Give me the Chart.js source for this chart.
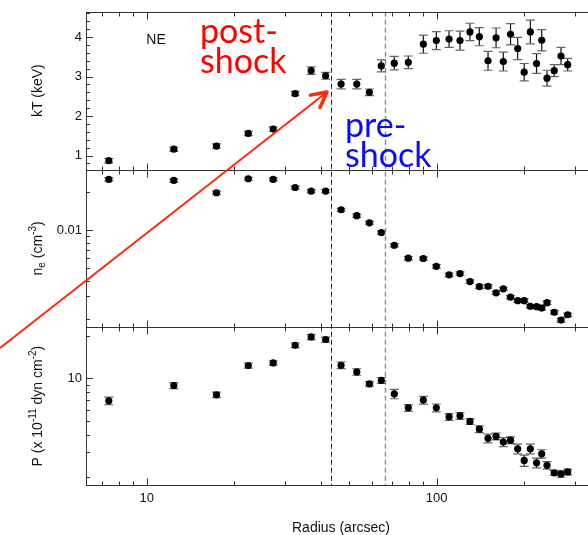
<!DOCTYPE html>
<html>
<head>
<meta charset="utf-8">
<script src="https://cdn.jsdelivr.net/npm/chart.js@4.4.1/dist/chart.umd.min.js"></script>
<style>
  html, body { margin: 0; padding: 0; background: #fff; }
  #wrap { width: 588px; height: 535px; }
</style>
</head>
<body>
<div id="wrap"><canvas id="profile" width="588" height="535"></canvas></div>
<script>
// NE sector radial profiles
const radius = [7.4, 12.4, 17.4, 22.4, 27.3, 32.5, 36.9, 41.4, 46.8, 53.0, 58.6, 64.4, 71.4, 79.8, 89.9,
  99.7, 110.3, 120.3, 130.2, 140.3, 150.3, 160.2, 169.7, 179.7, 190.2, 200.3, 210.3, 220.9, 230.2, 240.1,
  254.2, 268.3, 282.9];

const kT = [0.87, 1.16, 1.24, 1.56, 1.67, 2.57, 3.15, 3.02, 2.81, 2.81, 2.60, 3.27, 3.34, 3.36, 3.82,
  3.91, 3.95, 3.91, 4.13, 4.01, 3.40, 3.98, 3.38, 4.07, 3.71, 3.11, 4.13, 3.33, 3.92, 2.96,
  3.15, 3.52, 3.30];
const kTErr = [0.055, 0.055, 0.055, 0.055, 0.055, 0.055, 0.093, 0.085, 0.12, 0.12, 0.085, 0.15, 0.17, 0.16, 0.23,
  0.23, 0.21, 0.24, 0.22, 0.23, 0.24, 0.25, 0.24, 0.27, 0.28, 0.22, 0.30, 0.25, 0.27, 0.20,
  0.15, 0.22, 0.16];

const ne = [0.0254, 0.0249, 0.0199, 0.0257, 0.0254, 0.0219, 0.0205, 0.0205, 0.0146, 0.0131, 0.0115, 0.00964, 0.00764, 0.00603, 0.00600,
  0.00520, 0.00445, 0.00456, 0.00394, 0.00359, 0.00361, 0.00321, 0.00345, 0.00296, 0.00278, 0.00278, 0.00251, 0.00249, 0.00243, 0.00268,
  0.00225, 0.00195, 0.00215];
const neErr = [0.0008, 0.0007, 0.0006, 0.0007, 0.0007, 0.0006, 0.0006, 0.0006, 0.0004, 0.0004, 0.0003, 0.0003, 0.00022, 0.00018, 0.00018,
  0.00016, 0.00014, 0.00014, 0.00012, 0.00011, 0.00011, 0.0001, 0.0001, 0.00009, 0.00009, 0.00009, 0.00008, 0.00008, 0.00008, 0.00009,
  0.00008, 0.00007, 0.00007];

// pressure in units of 1e-11 dyn cm^-2
const pressure = [6.95, 8.92, 7.66, 12.36, 12.89, 17.19, 19.68, 18.89, 12.41, 11.13, 9.16, 9.69, 7.78, 6.20, 7.03,
  6.20, 5.35, 5.44, 4.97, 4.38, 3.77, 3.89, 3.55, 3.66, 3.18, 2.63, 3.18, 2.53, 2.93, 2.43,
  2.15, 2.11, 2.18];
const pressureErr = [0.43, 0.44, 0.35, 0.51, 0.46, 0.65, 0.81, 0.77, 0.68, 0.59, 0.33, 0.47, 0.59, 0.34, 0.44,
  0.40, 0.29, 0.30, 0.23, 0.24, 0.27, 0.21, 0.26, 0.20, 0.25, 0.24, 0.25, 0.20, 0.20, 0.15,
  0.09, 0.11, 0.10];

// shock edges (arcsec)
const shockInner = 43.2;
const shockOuter = 66.3;

// tick marks
const xMajor = [10, 100];
const xMinor = [7, 8, 9, 20, 30, 40, 50, 60, 70, 80, 90, 200, 300];
const kTMajor = [1, 2, 3, 4];
const kTMinor = [0.8, 1.2, 1.4, 1.6, 1.8, 2.2, 2.4, 2.6, 2.8, 3.2, 3.4, 3.6, 3.8, 4.2, 4.4, 4.6];
const neMajor = [0.01];
const neMinor = [0.002, 0.003, 0.004, 0.005, 0.006, 0.007, 0.008, 0.009, 0.02, 0.03];
const pMajor = [10];
const pMinor = [2, 3, 4, 5, 6, 7, 8, 9, 20];

const SANS = '"Liberation Sans", Arial, Helvetica, sans-serif';

const frame = {
  id: 'frame',
  beforeDatasetsDraw(chart) {
    const { ctx, chartArea: a, scales } = chart;
    const xs = scales.x;
    ctx.save();

    // dashed lines at the shock edges
    ctx.setLineDash([5, 3]);
    [[shockInner, '#222', 1], [shockOuter, '#8a8a8a', 1.4]].forEach(([r, c, w]) => {
      const px = Math.round(xs.getPixelForValue(r)) + 0.5;
      ctx.strokeStyle = c;
      ctx.lineWidth = w;
      ctx.beginPath();
      ctx.moveTo(px, a.top);
      ctx.lineTo(px, a.bottom);
      ctx.stroke();
    });
    ctx.setLineDash([]);

    ctx.strokeStyle = '#333';
    ctx.lineWidth = 1;
    const panels = [['yT', kTMajor, kTMinor], ['yN', neMajor, neMinor], ['yP', pMajor, pMinor]];
    panels.forEach(([id, major, minor]) => {
      const s = scales[id];
      const top = Math.round(s.top) + 0.5;
      const bot = Math.round(s.bottom) + 0.5;
      ctx.beginPath();
      ctx.moveTo(a.left, top); ctx.lineTo(a.right, top);
      ctx.moveTo(a.left, bot); ctx.lineTo(a.right, bot);
      // x ticks pointing into the panel
      [[xMajor, 7], [xMinor, 4]].forEach(([vals, len]) => {
        vals.forEach(v => {
          const px = Math.round(xs.getPixelForValue(v)) + 0.5;
          if (px < a.left || px > a.right) return;
          ctx.moveTo(px, top); ctx.lineTo(px, top + len);
          ctx.moveTo(px, bot); ctx.lineTo(px, bot - len);
        });
      });
      // y ticks on the left axis
      [[major, 7], [minor, 4]].forEach(([vals, len]) => {
        vals.forEach(v => {
          const py = Math.round(s.getPixelForValue(v)) + 0.5;
          if (py < s.top || py > s.bottom) return;
          ctx.moveTo(a.left, py); ctx.lineTo(a.left + len, py);
        });
      });
      ctx.stroke();
    });
    ctx.beginPath();
    ctx.moveTo(Math.round(a.left) + 0.5, a.top);
    ctx.lineTo(Math.round(a.left) + 0.5, a.bottom);
    ctx.stroke();
    ctx.restore();
  }
};

const errorBars = {
  id: 'errorBars',
  beforeDatasetsDraw(chart) {
    const { ctx } = chart;
    chart.data.datasets.forEach((ds, i) => {
      const meta = chart.getDatasetMeta(i);
      const ys = chart.scales[ds.yAxisID];
      ctx.save();
      ctx.lineWidth = 1.2;
      meta.data.forEach((pt, j) => {
        const v = ds.data[j].y, e = ds.errors[j];
        const yHi = ys.getPixelForValue(v + e);
        const yLo = ys.getPixelForValue(v - e);
        const x = pt.x;
        ctx.strokeStyle = '#111';
        ctx.beginPath();
        ctx.moveTo(x, yHi); ctx.lineTo(x, yLo);
        ctx.stroke();
        ctx.strokeStyle = '#666';
        ctx.beginPath();
        ctx.moveTo(x - 4.5, yHi); ctx.lineTo(x + 4.5, yHi);
        ctx.moveTo(x - 4.5, yLo); ctx.lineTo(x + 4.5, yLo);
        ctx.stroke();
      });
      ctx.restore();
    });
  }
};

// rotated axis title built from [text, size, baseline shift] pieces
function verticalTitle(ctx, parts, x, y) {
  ctx.save();
  ctx.translate(x, y);
  ctx.rotate(-Math.PI / 2);
  let w = 0;
  parts.forEach(([t, size]) => { ctx.font = `${size}px ${SANS}`; w += ctx.measureText(t).width; });
  let cx = -w / 2;
  ctx.textAlign = 'left';
  ctx.textBaseline = 'alphabetic';
  parts.forEach(([t, size, dy]) => {
    ctx.font = `${size}px ${SANS}`;
    ctx.fillText(t, cx, dy);
    cx += ctx.measureText(t).width;
  });
  ctx.restore();
}

const labels = {
  id: 'labels',
  afterDatasetsDraw(chart) {
    const { ctx, scales } = chart;
    ctx.save();
    ctx.fillStyle = '#111';
    const mid = id => (scales[id].top + scales[id].bottom) / 2;
    verticalTitle(ctx, [['kT (keV)', 14, 0]], 41.5, mid('yT'));
    verticalTitle(ctx, [['n', 14, 0], ['e', 10, 3], [' (cm', 14, 0], ['-3', 10, -6], [')', 14, 0]], 41.5, mid('yN'));
    verticalTitle(ctx, [['P (x 10', 14, 0], ['-11', 10, -6], [' dyn cm', 14, 0], ['-2', 10, -6], [')', 14, 0]], 41.5, mid('yP'));

    ctx.font = `14px ${SANS}`;
    ctx.textAlign = 'center';
    ctx.textBaseline = 'alphabetic';
    ctx.fillText('Radius (arcsec)', 341, 532);
    ctx.fillText('NE', 156, 44);

    // arrow towards the inner edge
    const x0 = 0, y0 = 348, x1 = 327, y1 = 92;
    const ang = Math.atan2(y1 - y0, x1 - x0);
    ctx.strokeStyle = '#ff2a0a';
    ctx.lineWidth = 2;
    ctx.beginPath();
    ctx.moveTo(x0, y0); ctx.lineTo(x1 - 2 * Math.cos(ang), y1 - 2 * Math.sin(ang));
    ctx.stroke();
    ctx.lineWidth = 3.5;
    ctx.lineCap = 'round';
    ctx.lineJoin = 'round';
    ctx.beginPath();
    ctx.moveTo(x1 - 17 * Math.cos(ang - 0.48), y1 - 17 * Math.sin(ang - 0.48));
    ctx.lineTo(x1, y1);
    ctx.lineTo(x1 - 17 * Math.cos(ang + 0.48), y1 - 17 * Math.sin(ang + 0.48));
    ctx.stroke();

    ctx.font = '34px Lato, "Open Sans", sans-serif';
    ctx.textAlign = 'left';
    ctx.fillStyle = '#ff0000';
    ctx.fillText('post-', 200, 43);
    ctx.fillText('shock', 200, 73);
    ctx.fillStyle = '#0a0aff';
    ctx.fillText('pre-', 345, 137);
    ctx.fillText('shock', 345, 167);
    ctx.restore();
  }
};

const points = (ys) => radius.map((r, i) => ({ x: r, y: ys[i] }));

const dotStyle = {
  showLine: false,
  pointRadius: 3.6,
  pointHoverRadius: 3.6,
  pointBackgroundColor: '#000',
  pointBorderWidth: 0
};

const tickFont = { family: SANS, size: 13 };
const yAxis = (type, min, max, labelled) => ({
  type,
  position: 'left',
  stack: 'panels',
  stackWeight: 1,
  min, max,
  bounds: 'data',
  grid: { display: false, drawTicks: false },
  border: { display: false },
  ticks: {
    padding: 4,
    color: '#111',
    font: tickFont,
    autoSkip: false,
    callback: v => String(v)
  },
  afterBuildTicks: s => { s.ticks = labelled.map(v => ({ value: v })); },
  afterFit: s => { s.width = 86; }
});

new Chart(document.getElementById('profile'), {
  type: 'scatter',
  data: {
    datasets: [
      { ...dotStyle, data: points(pressure), errors: pressureErr, yAxisID: 'yP' },
      { ...dotStyle, data: points(ne), errors: neErr, yAxisID: 'yN' },
      { ...dotStyle, data: points(kT), errors: kTErr, yAxisID: 'yT' }
    ]
  },
  options: {
    responsive: false,
    animation: false,
    devicePixelRatio: 1,
    events: [],
    layout: { autoPadding: false, padding: { top: 11, right: 0, bottom: 0, left: 0 } },
    plugins: { legend: { display: false }, tooltip: { enabled: false } },
    scales: {
      x: {
        type: 'logarithmic',
        position: 'bottom',
        min: 6.175,
        max: 332.4,
        bounds: 'data',
        grid: { display: false, drawTicks: false },
        border: { display: false },
        ticks: {
          padding: 6,
          color: '#111',
          font: tickFont,
          autoSkip: false,
          maxRotation: 0,
          callback: v => String(v)
        },
        afterBuildTicks: s => { s.ticks = xMajor.map(v => ({ value: v })); },
        afterFit: s => { s.height = 50; }
      },
      yP: yAxis('logarithmic', 1.762, 23.05, pMajor),
      yN: yAxis('logarithmic', 0.001711, 0.0304, neMajor),
      yT: yAxis('linear', 0.645, 4.64, kTMajor)
    }
  },
  plugins: [frame, errorBars, labels]
});
</script>
</body>
</html>
